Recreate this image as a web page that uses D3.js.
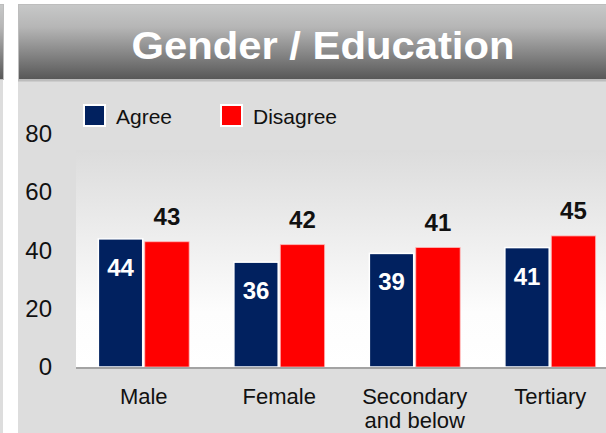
<!DOCTYPE html>
<html>
<head>
<meta charset="utf-8">
<script src="https://cdn.jsdelivr.net/npm/d3@7"></script>
<style>
  body { margin: 0; background: #fff; }
  svg { display: block; font-family: "Liberation Sans", Arial, sans-serif; }
</style>
</head>
<body>
<script>
// data
const categories = ["Male", "Female", "Secondary and below", "Tertiary"]
const seriesNames = ["Agree", "Disagree"]
const agree = [44, 36, 39, 41]
const disagree = [43, 42, 41, 45]
const yTicks = [0, 20, 40, 60, 80]
const title = "Gender / Education"

const W = 606, H = 433
const NAVY = "#01215f", RED = "#ff0000"

const svg = d3.select("body").append("svg")
    .attr("width", W)
    .attr("height", H)

const defs = svg.append("defs")
const hg = defs.append("linearGradient").attr("id", "hdr").attr("x1", 0).attr("y1", 0).attr("x2", 0).attr("y2", 1)
hg.append("stop").attr("offset", 0).attr("stop-color", "#c7c8c8")
hg.append("stop").attr("offset", 0.3).attr("stop-color", "#b6b6b6")
hg.append("stop").attr("offset", 1).attr("stop-color", "#575757")
const pg = defs.append("linearGradient").attr("id", "plot").attr("x1", 0).attr("y1", 0).attr("x2", 0).attr("y2", 1)
pg.append("stop").attr("offset", 0).attr("stop-color", "#dcdcdc")
pg.append("stop").attr("offset", 0.75).attr("stop-color", "#fdfdfd")
pg.append("stop").attr("offset", 1).attr("stop-color", "#ffffff")

//left neighbour panel (cut off)
svg.append("rect").attr("x", -20).attr("y", 80).attr("width", 23).attr("height", H - 80).attr("fill", "#dddddd")
svg.append("rect").attr("x", -20).attr("y", 4.5).attr("width", 23.5).attr("height", 75).attr("fill", "url(#hdr)")
    .attr("stroke", "#bdbdbd").attr("stroke-width", 1)

//main panel
svg.append("rect").attr("x", 18).attr("y", 80).attr("width", W).attr("height", H - 80).attr("fill", "#dddddd")
svg.append("rect").attr("x", 18.5).attr("y", 4.5).attr("width", W).attr("height", 75).attr("fill", "url(#hdr)")
    .attr("stroke", "#bdbdbd").attr("stroke-width", 1)
svg.append("rect").attr("x", 18).attr("y", 79.5).attr("width", W).attr("height", 2).attr("fill", "#bcbcbc")

svg.append("text")
    .attr("x", 323)
    .attr("y", 59)
    .attr("text-anchor", "middle")
    .attr("font-size", "38px")
    .attr("font-weight", "bold")
    .attr("fill", "white")
    .attr("textLength", 383)
    .attr("lengthAdjust", "spacingAndGlyphs")
    .text(title)

// scales
const x0 = d3.scaleBand().domain(categories).range([76, 618]).paddingInner(0.33).paddingOuter(0.165)
const x1 = d3.scaleBand().domain(seriesNames).range([0, x0.bandwidth()]).paddingInner(0.045)
const y = d3.scaleLinear().domain([0, 80]).range([367, 134])
const color = d3.scaleOrdinal().domain(seriesNames).range([NAVY, RED])

// plot area
svg.append("rect").attr("x", 76).attr("y", 150).attr("width", W - 76).attr("height", y(0) - 150).attr("fill", "url(#plot)")

const yAxis = svg.append("g")
    .attr("transform", "translate(52,0)")
    .call(d3.axisLeft(y).tickValues(yTicks).tickSize(0).tickPadding(0))
yAxis.select(".domain").remove()
yAxis.selectAll("text")
    .attr("font-size", "24px")
    .attr("font-family", "Liberation Sans, Arial, sans-serif")
    .attr("fill", "#111")

const rows = categories.map((c, i) => ({cat: c, vals: [
    {key: "Agree", v: agree[i]},
    {key: "Disagree", v: disagree[i]}
]}))

const groups = svg.append("g").selectAll("g")
    .data(rows)
    .join("g")
    .attr("transform", d => `translate(${x0(d.cat)},0)`)

groups.selectAll("rect")
    .data(d => d.vals)
    .join("rect")
    .attr("x", d => x1(d.key))
    .attr("y", d => y(d.v))
    .attr("width", x1.bandwidth())
    .attr("height", d => y(0) - y(d.v))
    .attr("fill", d => color(d.key))
    .attr("stroke", d => d.key == "Agree" ? "#ffffff" : "#ffb3b3")
    .attr("stroke-width", d => d.key == "Agree" ? 1.5 : 0.8)

groups.selectAll("text.val")
    .data(d => d.vals)
    .join("text")
    .attr("class", "val")
    .attr("x", d => x1(d.key) + x1.bandwidth() / 2)
    .attr("y", d => d.key == "Agree" ? y(d.v) + 37 : y(d.v) - 17)
    .attr("text-anchor", "middle")
    .attr("font-size", "24px")
    .attr("font-weight", "bold")
    .attr("fill", d => d.key == "Agree" ? "white" : "#111")
    .text(d => d.v)

// x axis line
svg.append("line")
    .attr("x1", 76).attr("x2", W)
    .attr("y1", y(0) + 1).attr("y2", y(0) + 1)
    .attr("stroke", "#a3a3a3").attr("stroke-width", 2)

const xAxis = svg.append("g")
    .attr("transform", `translate(0,${y(0)})`)
    .call(d3.axisBottom(x0).tickSize(0).tickPadding(0))
xAxis.select(".domain").remove()
xAxis.selectAll("text")
    .attr("font-size", "22px")
    .attr("font-family", "Liberation Sans, Arial, sans-serif")
    .attr("fill", "#111")
    .attr("dy", null)
    .attr("y", 37)
    .each(function (d) {
        const t = d3.select(this)
        if (d == "Secondary and below") {
            t.text(null)
            t.append("tspan").attr("x", 0).text("Secondary")
            t.append("tspan").attr("x", 0).attr("dy", 24).text("and below")
        }
    })

// legend
const legend = svg.append("g").selectAll("g")
    .data(seriesNames)
    .join("g")
    .attr("transform", (d, i) => `translate(${84 + i * 137},105)`)
legend.append("rect")
    .attr("width", 21).attr("height", 21)
    .attr("fill", d => color(d))
    .attr("stroke", "white").attr("stroke-width", 2)
legend.append("text")
    .attr("x", 32)
    .attr("y", 19)
    .attr("font-size", "21px")
    .attr("fill", "#111")
    .text(d => d)
</script>
</body>
</html>
